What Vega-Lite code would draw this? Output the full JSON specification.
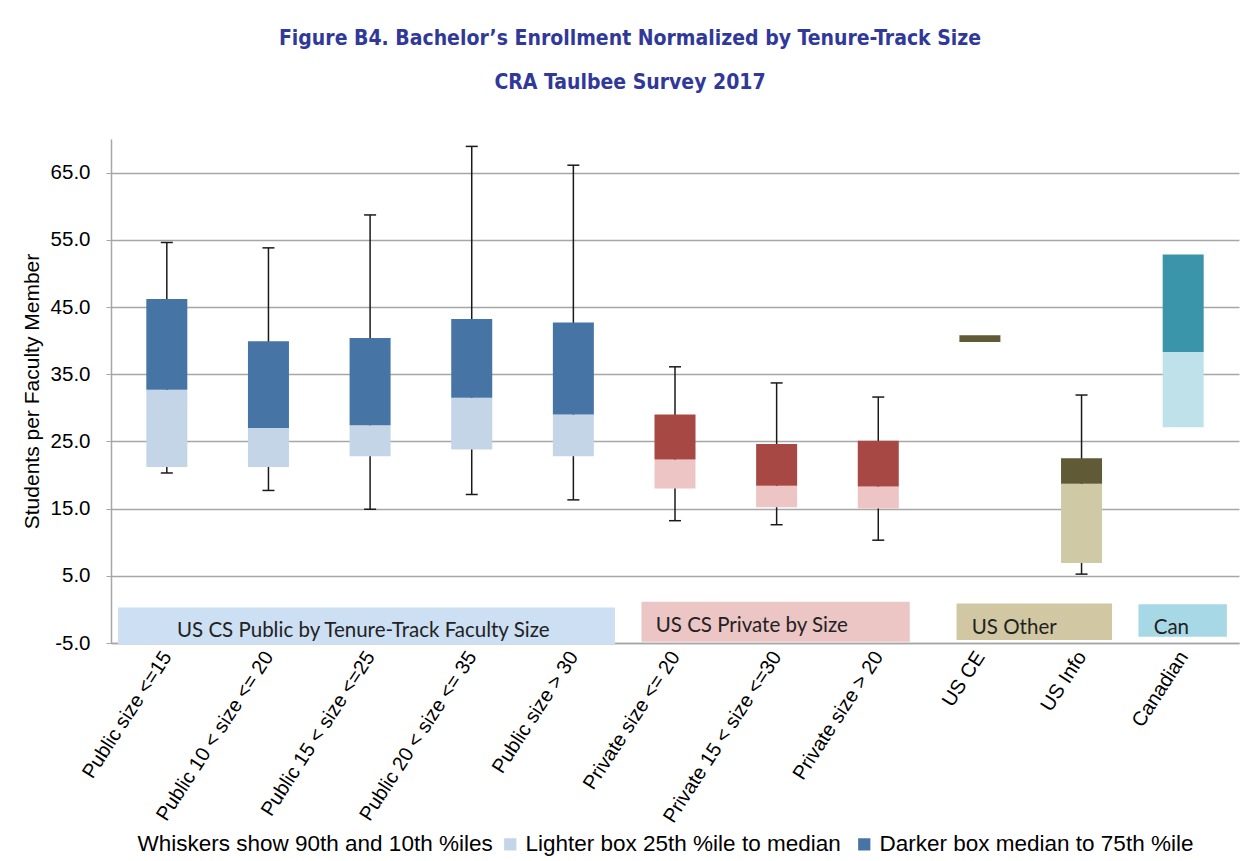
{
  "$schema": "https://vega.github.io/schema/vega-lite/v6.json",
  "description": "Bachelor's enrollment per tenure-track faculty member, box summaries by department type",
  "autosize": {"type": "none"},
  "padding": {"left": 111, "top": 139, "right": 13, "bottom": 218},
  "width": 1128,
  "height": 504,
  "background": "white",
  "title": {
    "text": "Figure B4. Bachelor’s Enrollment Normalized by Tenure-Track Size",
    "subtitle": "CRA Taulbee Survey 2017",
    "font": "Liberation Sans Narrow, DejaVu Sans Condensed, Roboto",
    "fontSize": 21,
    "fontWeight": "bold",
    "color": "#30399a",
    "subtitleFont": "Liberation Sans Narrow, DejaVu Sans Condensed, Roboto",
    "subtitleFontSize": 21,
    "subtitleFontWeight": "bold",
    "subtitleColor": "#30399a",
    "subtitlePadding": 23,
    "anchor": "middle",
    "frame": "bounds",
    "offset": 46
  },
  "config": {
    "view": {"stroke": null},
    "axis": {
      "labelFont": "Liberation Sans",
      "labelColor": "#000000",
      "domainColor": "#a6a6a6",
      "domainWidth": 1.5,
      "gridColor": "#a6a6a6",
      "gridWidth": 1.5,
      "tickColor": "#a6a6a6"
    }
  },
  "datasets": {
    "boxes": [
      {"cat": 1, "name": "Public size <=15", "group": "Public", "p10": 20.3, "p25": 21.2, "p50": 32.7, "p75": 46.2, "p90": 54.6},
      {"cat": 2, "name": "Public 10 < size <= 20", "group": "Public", "p10": 17.7, "p25": 21.2, "p50": 27.0, "p75": 39.9, "p90": 53.8},
      {"cat": 3, "name": "Public 15 < size <=25", "group": "Public", "p10": 14.9, "p25": 22.8, "p50": 27.4, "p75": 40.4, "p90": 58.7},
      {"cat": 4, "name": "Public 20 < size <= 35", "group": "Public", "p10": 17.1, "p25": 23.8, "p50": 31.5, "p75": 43.2, "p90": 68.9},
      {"cat": 5, "name": "Public size > 30", "group": "Public", "p10": 16.3, "p25": 22.8, "p50": 29.0, "p75": 42.7, "p90": 66.1},
      {"cat": 6, "name": "Private size <= 20", "group": "Private", "p10": 13.2, "p25": 18.0, "p50": 22.3, "p75": 29.0, "p90": 36.1},
      {"cat": 7, "name": "Private 15 < size <=30", "group": "Private", "p10": 12.6, "p25": 15.2, "p50": 18.4, "p75": 24.6, "p90": 33.7},
      {"cat": 8, "name": "Private size > 20", "group": "Private", "p10": 10.3, "p25": 15.0, "p50": 18.3, "p75": 25.1, "p90": 31.6},
      {"cat": 9, "name": "US CE", "group": "Other", "p10": null, "p25": 39.8, "p50": 39.8, "p75": 40.8, "p90": null},
      {"cat": 10, "name": "US Info", "group": "Other", "p10": 5.25, "p25": 6.9, "p50": 18.7, "p75": 22.5, "p90": 31.9},
      {"cat": 11, "name": "Canadian", "group": "Canadian", "p10": null, "p25": 27.1, "p50": 38.3, "p75": 52.8, "p90": null}
    ],
    "bands": [
      {"group": "Public", "label": "US CS Public by Tenure-Track Faculty Size", "start": 0.52, "end": 5.41, "lo": -5.2, "hi": 0.3, "label_x": 1.1, "label_y": -4.1},
      {"group": "Private", "label": "US CS Private by Size", "start": 5.67, "end": 8.31, "lo": -4.8, "hi": 1.15, "label_x": 5.81, "label_y": -3.4},
      {"group": "Other", "label": "US Other", "start": 8.77, "end": 10.3, "lo": -4.55, "hi": 0.86, "label_x": 8.92, "label_y": -3.7},
      {"group": "Canadian", "label": "Can", "start": 10.56, "end": 11.43, "lo": -4.06, "hi": 0.77, "label_x": 10.71, "label_y": -3.7}
    ],
    "legend": [
      {"entry": "Whiskers show 90th and 10th %iles"},
      {"entry": "Lighter box  25th %ile to median"},
      {"entry": "Darker box  median to 75th %ile"}
    ]
  },
  "layer": [
    {
      "data": {"name": "bands"},
      "mark": {"type": "rect"},
      "encoding": {
        "x": {
          "field": "start",
          "type": "quantitative",
          "scale": {"domain": [0.5, 11.5], "nice": false, "zero": false},
          "axis": {
            "title": null,
            "values": [1, 2, 3, 4, 5, 6, 7, 8, 9, 10, 11],
            "labelExpr": "['Public size <=15', 'Public 10 < size <= 20', 'Public 15 < size <=25', 'Public 20 < size <= 35', 'Public size > 30', 'Private size <= 20', 'Private 15 < size <=30', 'Private size > 20', 'US CE', 'US Info', 'Canadian'][datum.value - 1]",
            "labelAngle": -57,
            "labelFontSize": 20,
            "labelPadding": 10,
            "labelOverlap": false,
            "labelFlush": false,
            "labelBound": false,
            "labelLimit": 400,
            "grid": false,
            "ticks": false
          }
        },
        "x2": {"field": "end"},
        "y": {
          "field": "lo",
          "type": "quantitative",
          "scale": {"domain": [-5, 70], "nice": false, "zero": false},
          "axis": {
            "title": "Students per Faculty Member",
            "titleFont": "Liberation Sans",
            "titleFontSize": 21,
            "titleFontWeight": "normal",
            "titleColor": "#000000",
            "titlePadding": 8,
            "values": [-5, 5, 15, 25, 35, 45, 55, 65],
            "labelExpr": "datum.value < 0 ? '-' + format(-datum.value, '.1f') : format(datum.value, '.1f')",
            "labelFontSize": 20.5,
            "labelPadding": 16,
            "tickSize": 5,
            "grid": true
          }
        },
        "y2": {"field": "hi"},
        "color": {
          "field": "group",
          "type": "nominal",
          "scale": {"domain": ["Public", "Private", "Other", "Canadian"], "range": ["#cddff2", "#ecc5c5", "#d1c8a3", "#a7d8e5"]},
          "legend": null
        }
      }
    },
    {
      "data": {"name": "bands"},
      "mark": {"type": "text", "align": "left", "baseline": "alphabetic", "font": "Lato", "fontSize": 20.5, "color": "#222222"},
      "encoding": {
        "x": {"field": "label_x", "type": "quantitative"},
        "y": {"field": "label_y", "type": "quantitative"},
        "text": {"field": "label"}
      }
    },
    {
      "data": {"name": "boxes"},
      "transform": [{"filter": "isValid(datum.p10)"}],
      "mark": {"type": "rule", "color": "#1a1a1a", "strokeWidth": 1.5},
      "encoding": {
        "x": {"field": "cat", "type": "quantitative"},
        "y": {"field": "p10", "type": "quantitative"},
        "y2": {"field": "p90"}
      }
    },
    {
      "data": {"name": "boxes"},
      "transform": [{"filter": "isValid(datum.p90)"}],
      "mark": {"type": "tick", "orient": "horizontal", "color": "#1a1a1a", "size": 12, "thickness": 1.5, "opacity": 1},
      "encoding": {
        "x": {"field": "cat", "type": "quantitative"},
        "y": {"field": "p90", "type": "quantitative"}
      }
    },
    {
      "data": {"name": "boxes"},
      "transform": [{"filter": "isValid(datum.p10)"}],
      "mark": {"type": "tick", "orient": "horizontal", "color": "#1a1a1a", "size": 12, "thickness": 1.5, "opacity": 1},
      "encoding": {
        "x": {"field": "cat", "type": "quantitative"},
        "y": {"field": "p10", "type": "quantitative"}
      }
    },
    {
      "data": {"name": "boxes"},
      "mark": {"type": "bar", "width": 41},
      "encoding": {
        "x": {"field": "cat", "type": "quantitative"},
        "y": {"field": "p25", "type": "quantitative"},
        "y2": {"field": "p50"},
        "color": {
          "field": "group",
          "type": "nominal",
          "scale": {"domain": ["Public", "Private", "Other", "Canadian"], "range": ["#c5d5e8", "#ecc5c4", "#d0c9a6", "#bfe1ea"]},
          "legend": null
        },
        "tooltip": [
          {"field": "name", "title": "Category"},
          {"field": "p25", "title": "25th %ile"},
          {"field": "p50", "title": "Median"}
        ]
      }
    },
    {
      "data": {"name": "boxes"},
      "mark": {"type": "bar", "width": 41},
      "encoding": {
        "x": {"field": "cat", "type": "quantitative"},
        "y": {"field": "p50", "type": "quantitative"},
        "y2": {"field": "p75"},
        "color": {
          "field": "group",
          "type": "nominal",
          "scale": {"domain": ["Public", "Private", "Other", "Canadian"], "range": ["#4674a4", "#a84844", "#615a36", "#3a95ab"]},
          "legend": null
        },
        "tooltip": [
          {"field": "name", "title": "Category"},
          {"field": "p50", "title": "Median"},
          {"field": "p75", "title": "75th %ile"}
        ]
      }
    },
    {
      "data": {"name": "legend"},
      "mark": {"type": "square", "opacity": 0},
      "encoding": {
        "color": {
          "field": "entry",
          "type": "nominal",
          "scale": {
            "domain": ["Whiskers show 90th and 10th %iles", "Lighter box  25th %ile to median", "Darker box  median to 75th %ile"],
            "range": ["transparent", "#c5d5e8", "#4674a4"]
          },
          "legend": {
            "title": null,
            "orient": "bottom",
            "direction": "horizontal",
            "padding": 0,
            "symbolType": "square",
            "symbolSize": 150,
            "symbolOpacity": 1,
            "symbolStrokeWidth": 0,
            "labelOffset": 4,
            "labelFont": "Liberation Sans",
            "labelFontSize": 22.5,
            "labelColor": "#000000",
            "labelLimit": 600,
            "columnPadding": 6,
            "offset": 7
          }
        }
      }
    }
  ],
  "resolve": {"scale": {"color": "independent"}}
}
